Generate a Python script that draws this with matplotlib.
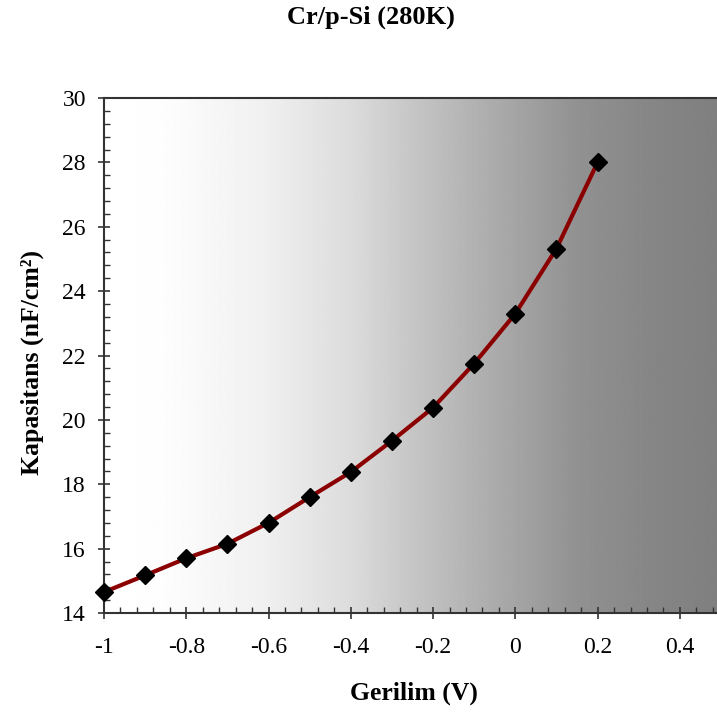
import numpy as np
import matplotlib
matplotlib.use("Agg")
import matplotlib.pyplot as plt
from matplotlib.ticker import MultipleLocator, FuncFormatter

voltage = [-1.0, -0.9, -0.8, -0.7, -0.6, -0.5, -0.4, -0.3, -0.2, -0.1, 0.0, 0.1, 0.2]
capacitance = [14.65, 15.17, 15.70, 16.15, 16.80, 17.60, 18.38, 19.35, 20.38, 21.75, 23.30, 25.32, 28.00]

title = "Cr/p-Si (280K)"
xlabel = "Gerilim (V)"
ylabel = "Kapasitans (nF/cm²)"

plt.rcParams['font.family'] = ['Liberation Serif', 'DejaVu Serif']

W, H = 717, 713
fig = plt.figure(figsize=(W / 100, H / 100), dpi=100)
left, right, top, bottom = 104, 721, 98, 613
ax = fig.add_axes([left / W, 1 - bottom / H, (right - left) / W, (bottom - top) / H])
ax.set_xlim(-1, 0.5)
ax.set_ylim(14, 30)

# gradient background (style only)
stops_f = [0.0, 0.1, 0.26, 0.4, 0.5, 0.65, 0.77, 0.9, 1.0]
stops_v = [255, 253, 240, 220, 198, 168, 145, 133, 127]
f = np.linspace(0, 1, 512)
grad = (np.interp(f, stops_f, stops_v) / 255.0).reshape(1, -1)
ax.imshow(grad, extent=[-1, 0.5, 14, 30], aspect='auto', cmap='gray', vmin=0, vmax=1,
          zorder=0, interpolation='bilinear')

ax.plot(voltage, capacitance, color='#8B0000', lw=3, marker='D', ms=9,
        mfc='black', mec='black', zorder=3, clip_on=False)

ax.xaxis.set_major_locator(MultipleLocator(0.2))
ax.xaxis.set_minor_locator(MultipleLocator(0.04))
ax.yaxis.set_major_locator(MultipleLocator(2))
ax.yaxis.set_minor_locator(MultipleLocator(0.4))

def fmt(v, pos):
    s = f"{v:.1f}".rstrip('0').rstrip('.')
    if s in ('-0', ''):
        s = '0'
    return s
ax.xaxis.set_major_formatter(FuncFormatter(fmt))

ax.tick_params(which='major', direction='inout', length=8, width=1.2, labelsize=17, color='#333333')
ax.tick_params(which='minor', direction='in', length=4, width=1, color='#333333')
ax.tick_params(axis='y', which='major', pad=9)
ax.tick_params(axis='x', which='major', pad=13)

for s in ['left', 'bottom', 'top']:
    ax.spines[s].set_color('#333333')
    ax.spines[s].set_linewidth(1.5)
ax.spines['right'].set_visible(False)

fig.text(371 / W, 1 - 17 / H, title, ha='center', va='center', fontsize=19, fontweight='bold')
fig.text(414 / W, 1 - 693 / H, xlabel, ha='center', va='center', fontsize=18.5, fontweight='bold')
fig.text(32 / W, 1 - 362 / H, ylabel, ha='center', va='center', fontsize=18.5, fontweight='bold', rotation=90)

fig.savefig("out.png", dpi=100)
